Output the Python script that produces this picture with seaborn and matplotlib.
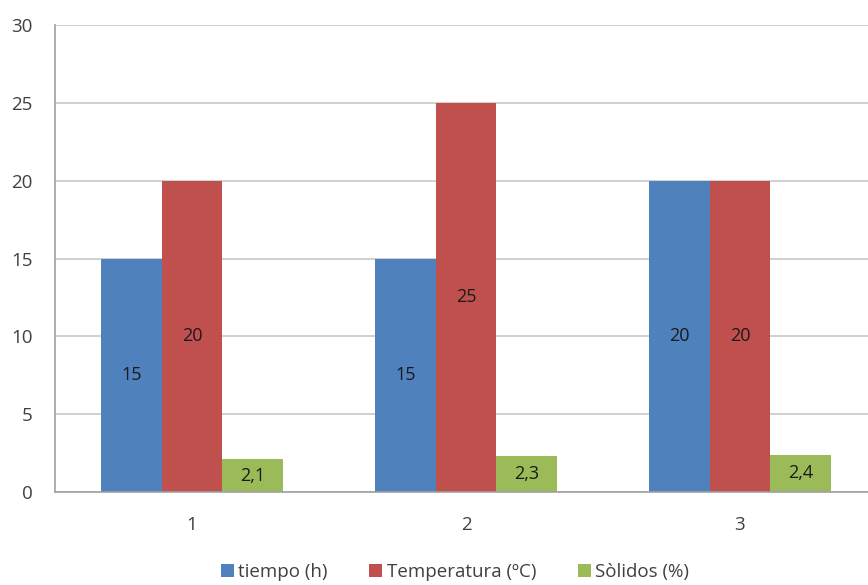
import pandas as pd
import matplotlib
matplotlib.use('Agg')
import matplotlib.pyplot as plt
import seaborn as sns

# data
ensayos = ['1', '2', '3']
tiempo = [15, 15, 20]
temperatura = [20, 25, 20]
solidos = [2.1, 2.3, 2.4]
series = ['tiempo (h)', 'Temperatura (ºC)', 'Sòlidos (%)']
colores = ['#4F81BD', '#C0504D', '#9BBB59']

# long format for seaborn
df = pd.DataFrame({
    'ensayo': ensayos * 3,
    'valor': tiempo + temperatura + solidos,
    'serie': [series[0]] * 3 + [series[1]] * 3 + [series[2]] * 3,
})

sns.set_style('white')
plt.rcParams['font.family'] = ['Open Sans', 'DejaVu Sans']

fig = plt.figure(figsize=(8.68, 5.85), dpi=100)
ax = fig.add_axes([55 / 868, 93 / 585, 822 / 868, 467 / 585])

sns.barplot(data=df, x='ensayo', y='valor', hue='serie', palette=colores,
            width=0.664, saturation=1, errorbar=None, linewidth=0, ax=ax, zorder=2)

# value labels in the middle of each bar, comma decimals
for cont in ax.containers:
    for bar in cont:
        h = bar.get_height()
        txt = f'{h:g}'.replace('.', ',')
        ax.text(bar.get_x() + bar.get_width() / 2, h / 2, txt,
                ha='center', va='center', fontsize=13, color='#1a1a1a')

ax.set_xlim(-0.5, 2.5)
ax.set_ylim(0, 30)
ax.set_yticks(range(0, 31, 5))
ax.grid(axis='y', color='#c8c8c8', linewidth=1.2, zorder=0)
ax.set_axisbelow(True)
ax.set_xlabel('')
ax.set_ylabel('')

# minor ticks between categories on the x axis
ax.set_xticks([0.5, 1.5], minor=True)
ax.tick_params(axis='x', which='minor', length=6, color='#a0a0a0', width=1.2)
ax.tick_params(axis='x', which='major', length=0, pad=17, labelsize=13.5, labelcolor='#404040')
ax.tick_params(axis='y', length=6, color='#a0a0a0', width=1.2, pad=10, labelsize=13.5, labelcolor='#404040')

for s in ['top', 'right']:
    ax.spines[s].set_visible(False)
for s in ['left', 'bottom']:
    ax.spines[s].set_color('#a0a0a0')
    ax.spines[s].set_linewidth(1.2)

handles, labels = ax.get_legend_handles_labels()
ax.legend(handles, labels, loc='center', bbox_to_anchor=(455 / 868, 13 / 585),
          bbox_transform=fig.transFigure, ncol=3, frameon=False, fontsize=13.5,
          handlelength=0.7, handleheight=0.7, handletextpad=0.25, columnspacing=2.2,
          labelcolor='#404040')

fig.savefig('out.png', dpi=100)
